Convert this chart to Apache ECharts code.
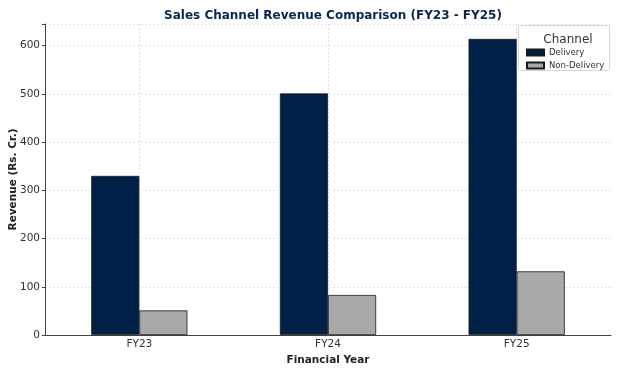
<!DOCTYPE html>
<html><head><meta charset="utf-8">
<script src="https://cdn.jsdelivr.net/npm/echarts@6/dist/echarts.min.js"></script>
<style>html,body{margin:0;padding:0;background:#fff}#c{width:620px;height:372px}</style>
</head><body><div id="c"></div>
<script>
const categories = ['FY23', 'FY24', 'FY25'];
const delivery = [330, 501, 614];
const nonDelivery = [51, 83, 132];
const seriesNames = ['Delivery', 'Non-Delivery'];
const yTicks = [0, 100, 200, 300, 400, 500, 600];

const font = 'DejaVu Sans';
const chart = echarts.init(document.getElementById('c'), null, {renderer: 'canvas'});
chart.setOption({
  animation: false,
  backgroundColor: '#fff',
  textStyle: {fontFamily: font},
  title: [{
    text: 'Sales Channel Revenue Comparison (FY23 - FY25)',
    left: 328, top: 5, textAlign: 'center',
    textStyle: {fontFamily: font, fontSize: 12, fontWeight: 'bold', color: '#0b2550'}
  }, {
    text: 'Channel', left: 563, top: 29, textAlign: 'center',
    textStyle: {fontFamily: font, fontSize: 12, fontWeight: 'normal', color: '#333'}
  }],
  graphic: [{
    type: 'rect', shape: {x: 518.5, y: 25.5, width: 91, height: 45, r: 2},
    style: {fill: 'rgba(255,255,255,0.8)', stroke: '#d6d6d6', lineWidth: 1}, z: 3
  }],
  legend: {
    orient: 'vertical', left: 521, top: 43, itemGap: 4,
    itemWidth: 17, itemHeight: 6, z: 5, icon: 'rect',
    data: seriesNames,
    textStyle: {fontFamily: font, fontSize: 8.5, color: '#333'}
  },
  grid: {left: 45, right: 9, top: 24, bottom: 37, containLabel: false, outerBoundsMode: 'none'},
  xAxis: {
    type: 'category', data: categories,
    name: 'Financial Year', nameLocation: 'middle', nameGap: 20, nameMoveOverlap: false,
    nameTextStyle: {fontFamily: font, fontSize: 10.5, fontWeight: 'bold', color: '#222'},
    axisLine: {lineStyle: {color: '#444', width: 1}},
    axisTick: {alignWithLabel: true, length: 3, lineStyle: {color: '#444'}},
    axisLabel: {fontFamily: font, fontSize: 10.5, color: '#333', margin: 4},
    splitLine: {show: true, alignWithLabel: true, lineStyle: {color: '#dcdcdc', type: [2, 2], width: 0.8}}
  },
  yAxis: {
    type: 'value', min: 0, max: 645, interval: 100,
    name: 'Revenue (Rs. Cr.)', nameLocation: 'middle', nameGap: 26, nameMoveOverlap: false,
    nameTextStyle: {fontFamily: font, fontSize: 10.5, fontWeight: 'bold', color: '#222'},
    axisLine: {show: true, lineStyle: {color: '#444', width: 1}},
    axisTick: {show: true, length: 3, lineStyle: {color: '#444'}},
    axisLabel: {fontFamily: font, fontSize: 10.5, color: '#333', margin: 5,
      formatter: v => yTicks.includes(v) ? String(v) : ''},
    splitLine: {show: true, lineStyle: {color: '#dcdcdc', type: [2, 2], width: 0.8}}
  },
  series: [{
    name: seriesNames[0], type: 'bar', data: delivery,
    barGap: '0%', barCategoryGap: '49%',
    itemStyle: {color: '#002147', borderColor: '#1a1a1a', borderWidth: 0.8}
  }, {
    name: seriesNames[1], type: 'bar', data: nonDelivery,
    itemStyle: {color: '#a9a9a9', borderColor: '#1a1a1a', borderWidth: 0.8}
  }]
});
</script></body></html>
